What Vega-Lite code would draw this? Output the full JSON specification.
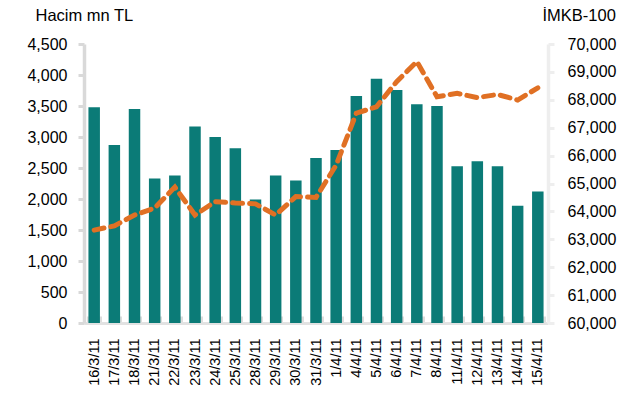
{
  "$schema": "https://vega.github.io/schema/vega-lite/v6.json",
  "autosize": "none",
  "width": 464,
  "height": 279,
  "padding": {"left": 84, "top": 44, "right": 85, "bottom": 80},
  "background": "white",
  "config": {
    "view": {"stroke": null},
    "font": "Liberation Sans",
    "axis": {"labelFont": "Liberation Sans", "titleFont": "Liberation Sans", "labelColor": "#000", "titleColor": "#000", "grid": false}
  },
  "data": {
    "values": [
      {"d": "16/3/11", "hacim": 3480, "imkb": 63330},
      {"d": "17/3/11", "hacim": 2870, "imkb": 63480},
      {"d": "18/3/11", "hacim": 3450, "imkb": 63870},
      {"d": "21/3/11", "hacim": 2330, "imkb": 64120},
      {"d": "22/3/11", "hacim": 2380, "imkb": 64870},
      {"d": "23/3/11", "hacim": 3170, "imkb": 63870},
      {"d": "24/3/11", "hacim": 3000, "imkb": 64350},
      {"d": "25/3/11", "hacim": 2820, "imkb": 64300},
      {"d": "28/3/11", "hacim": 1990, "imkb": 64270},
      {"d": "29/3/11", "hacim": 2380, "imkb": 63870},
      {"d": "30/3/11", "hacim": 2300, "imkb": 64530},
      {"d": "31/3/11", "hacim": 2660, "imkb": 64500},
      {"d": "1/4/11", "hacim": 2790, "imkb": 65660},
      {"d": "4/4/11", "hacim": 3660, "imkb": 67520},
      {"d": "5/4/11", "hacim": 3940, "imkb": 67750},
      {"d": "6/4/11", "hacim": 3760, "imkb": 68650},
      {"d": "7/4/11", "hacim": 3530, "imkb": 69370},
      {"d": "8/4/11", "hacim": 3500, "imkb": 68110},
      {"d": "11/4/11", "hacim": 2530, "imkb": 68230},
      {"d": "12/4/11", "hacim": 2610, "imkb": 68080},
      {"d": "13/4/11", "hacim": 2530, "imkb": 68190},
      {"d": "14/4/11", "hacim": 1890, "imkb": 67990},
      {"d": "15/4/11", "hacim": 2120, "imkb": 68430}
    ]
  },
  "encoding": {
    "x": {
      "field": "d", "type": "nominal", "sort": null,
      "scale": {"paddingInner": 0.43, "paddingOuter": 0.22},
      "axis": {
        "title": null, "labelAngle": -90, "labelAlign": "right", "labelBaseline": "middle",
        "labelFontSize": 14.5, "labelPadding": 22, "tickBand": "extent", "tickSize": -7,
        "tickColor": "#dddddd", "tickWidth": 3, "domainColor": "#e2e2e2", "domainWidth": 3
      }
    }
  },
  "layer": [
    {
      "mark": {"type": "bar", "color": "#0b7b77"},
      "encoding": {
        "y": {
          "field": "hacim", "type": "quantitative",
          "scale": {"domain": [0, 4500], "nice": false},
          "axis": {
            "values": [0, 500, 1000, 1500, 2000, 2500, 3000, 3500, 4000, 4500],
            "format": ",d", "labelFontSize": 16, "tickSize": 6, "labelPadding": 11,
            "tickColor": "#d9d9d9", "tickWidth": 3, "domainColor": "#d9d9d9", "domainWidth": 3.5,
            "title": "Hacim mn TL", "titleAngle": 0, "titleX": -49, "titleY": -24,
            "titleAlign": "left", "titleBaseline": "alphabetic", "titleFontSize": 16.5, "titleFontWeight": "normal"
          }
        }
      }
    },
    {
      "mark": {"type": "line", "color": "#e07024", "strokeWidth": 5, "strokeDash": [10, 7], "strokeCap": "round"},
      "encoding": {
        "y": {
          "field": "imkb", "type": "quantitative",
          "scale": {"domain": [60000, 70000], "nice": false, "zero": false},
          "axis": {
            "orient": "right",
            "values": [60000, 61000, 62000, 63000, 64000, 65000, 66000, 67000, 68000, 69000, 70000],
            "format": ",d", "labelFontSize": 16, "tickSize": 6, "labelPadding": 13,
            "tickColor": "#eeeeee", "tickWidth": 3, "domainColor": "#eeeeee", "domainWidth": 3.5,
            "title": "İMKB-100", "titleAngle": 0, "titleX": -6, "titleY": -24,
            "titleAlign": "left", "titleBaseline": "alphabetic", "titleFontSize": 16.5, "titleFontWeight": "normal"
          }
        }
      }
    }
  ],
  "resolve": {"scale": {"y": "independent"}}
}
